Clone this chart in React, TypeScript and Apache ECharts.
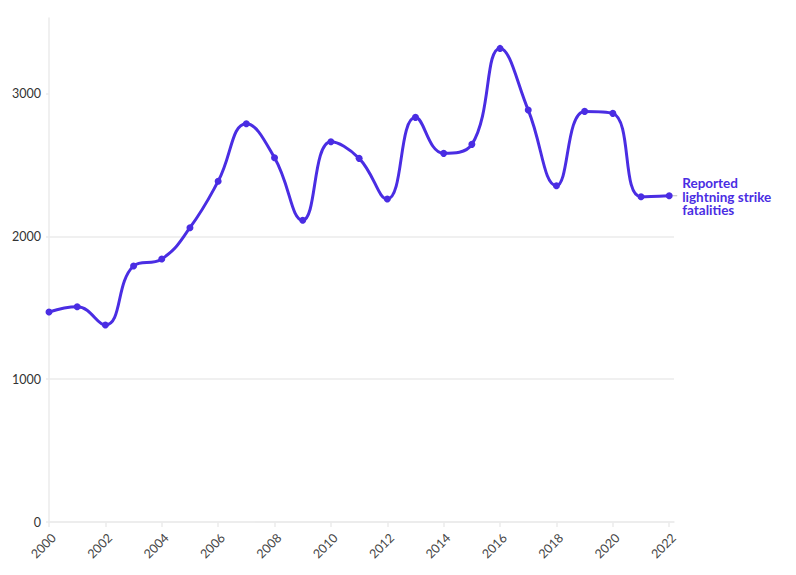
import React, { useEffect, useRef } from "react";
import * as echarts from "echarts";

const years = [2000, 2001, 2002, 2003, 2004, 2005, 2006, 2007, 2008, 2009, 2010, 2011, 2012, 2013, 2014, 2015, 2016, 2017, 2018, 2019, 2020, 2021, 2022];
const fatalities = [1471, 1508, 1380, 1793, 1842, 2061, 2386, 2789, 2551, 2113, 2663, 2547, 2262, 2834, 2582, 2645, 3317, 2885, 2355, 2876, 2862, 2278, 2285];
const xTicks = [2000, 2002, 2004, 2006, 2008, 2010, 2012, 2014, 2016, 2018, 2020, 2022];
const yTicks = [0, 1000, 2000, 3000];
const seriesName = "Reported\nlightning strike\nfatalities";

const LINE = "#4a2de3";
const GRID = "#ebebeb";
const FONT = "Lato";

export default function App() {
  const ref = useRef<HTMLDivElement>(null);
  useEffect(() => {
    document.body.style.margin = "0";
    const chart = echarts.init(ref.current!, null, { renderer: "svg" });
    chart.setOption({
      animation: false,
      grid: { left: 49, right: 122, top: 18, bottom: 53 },
      xAxis: {
        type: "value",
        min: 2000,
        max: 2022.17,
        interval: 2,
        axisLine: { show: true, lineStyle: { color: GRID, width: 1.5 } },
        axisTick: { show: true, length: 5, customValues: xTicks, lineStyle: { color: GRID, width: 1.5 } },
        axisLabel: {
          customValues: xTicks,
          rotate: 45,
          align: "right",
          verticalAlign: "top",
          color: "#444",
          fontSize: 12.5,
          fontFamily: FONT,
          margin: 9,
          formatter: (v: number) => String(v),
        },
        splitLine: { show: false },
      },
      yAxis: {
        type: "value",
        min: 0,
        max: 3530,
        interval: 1000,
        axisLine: { show: true, lineStyle: { color: GRID, width: 1.5 } },
        axisTick: { show: true, length: 3, customValues: yTicks, lineStyle: { color: GRID, width: 1.5 } },
        axisLabel: {
          customValues: yTicks,
          color: "#333",
          fontSize: 12.5,
          fontFamily: FONT,
          margin: 8,
          formatter: (v: number) => String(v),
        },
        splitLine: { show: true, showMaxLine: false, lineStyle: { color: GRID, width: 1.5 } },
      },
      series: [
        {
          type: "line",
          name: seriesName,
          data: years.map((y, i) => [y, fatalities[i]]),
          smooth: 0.45,
          symbol: "circle",
          symbolSize: 7,
          lineStyle: { color: LINE, width: 3 },
          itemStyle: { color: LINE },
        },
      ],
    });
    const last = years.length - 1;
    const p = chart.convertToPixel({ gridIndex: 0 }, [years[last], fatalities[last]]) as number[];
    chart.setOption({
      graphic: [
        {
          type: "line",
          shape: { x1: p[0] + 3, y1: p[1], x2: p[0] + 8, y2: p[1] },
          style: { stroke: "#bbb", lineWidth: 1 },
        },
        {
          type: "text",
          x: p[0] + 13,
          y: p[1] + 1,
          style: {
            text: seriesName,
            fill: LINE,
            font: `bold 13.5px ${FONT}`,
            lineHeight: 13.5,
            verticalAlign: "middle",
            align: "left",
          },
        },
      ],
    });
    return () => chart.dispose();
  }, []);
  return <div ref={ref} style={{ position: "absolute", left: 0, top: 0, width: 796, height: 575 }} />;
}
